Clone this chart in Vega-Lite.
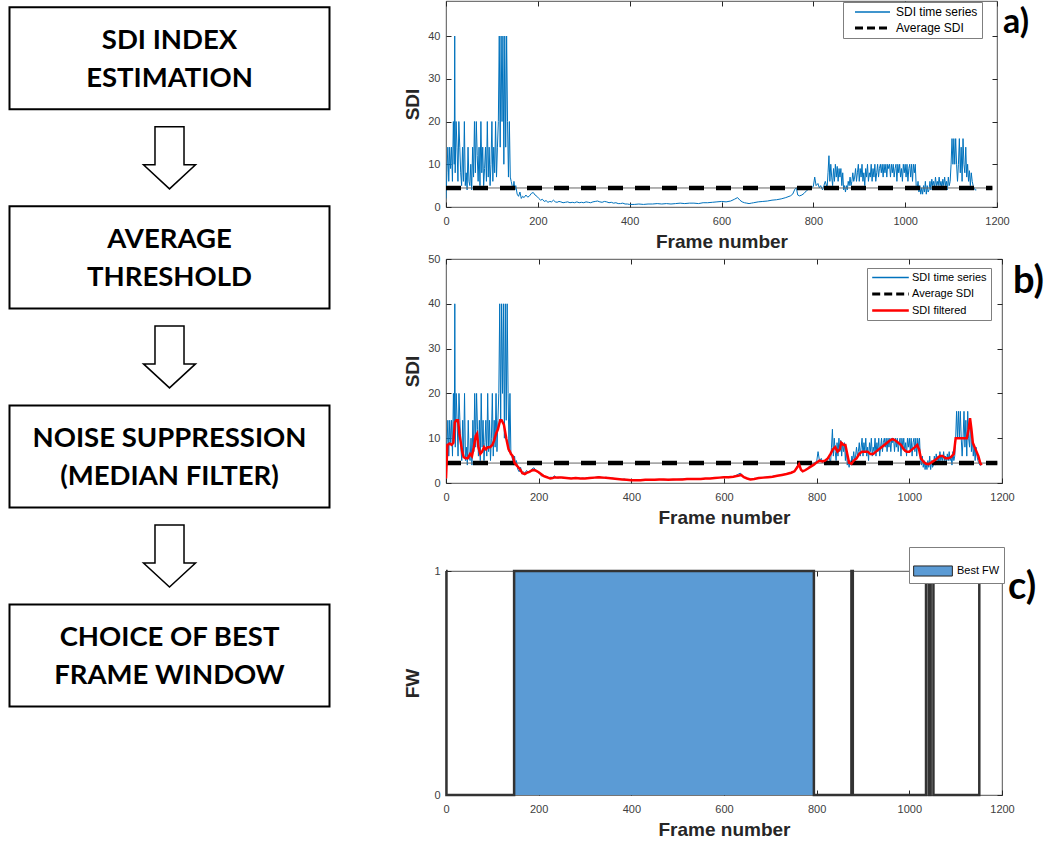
{
"$schema":"https://vega.github.io/schema/vega-lite/v6.json",
"padding":0,
"background":"white",
"config":{
 "font":"Liberation Sans",
 "view":{"stroke":"#262626","strokeWidth":0.8},
 "axis":{"labelFont":"Liberation Sans","labelFontSize":11,"labelColor":"#404040","titleFont":"Liberation Sans","titleFontSize":19,"titleFontWeight":"bold","titleColor":"#262626","tickColor":"#262626","tickSize":-5,"grid":false,"domain":false,"labelFlush":false,"labelOverlap":false,"format":"d"},
 "legend":{"labelFont":"Liberation Sans","labelColor":"#000000","fillColor":"white","strokeColor":"#7f7f7f","title":null}
},
"datasets":{
 "steps":[{"stage":1,"label":"SDI INDEX\nESTIMATION"},{"stage":2,"label":"AVERAGE\nTHRESHOLD"},{"stage":3,"label":"NOISE SUPPRESSION\n(MEDIAN FILTER)"},{"stage":4,"label":"CHOICE OF BEST\nFRAME WINDOW"}],
 "arrows":[{"stage":1.5},{"stage":2.5},{"stage":3.5}],
 "avg":[{"frame":0,"v":4.45},{"frame":1190,"v":4.45}],
 "sdi":[{"frame":0,"v":2},{"frame":2,"v":8},{"frame":4,"v":14},{"frame":6,"v":6},{"frame":8,"v":14},{"frame":10,"v":9},{"frame":12,"v":14},{"frame":14,"v":6},{"frame":16,"v":20},{"frame":18,"v":10},{"frame":19,"v":40},{"frame":20,"v":8},{"frame":22,"v":20},{"frame":24,"v":14},{"frame":26,"v":6},{"frame":28,"v":20},{"frame":30,"v":14},{"frame":32,"v":8},{"frame":34,"v":5},{"frame":36,"v":14},{"frame":38,"v":6},{"frame":40,"v":20},{"frame":42,"v":5},{"frame":44,"v":8},{"frame":46,"v":4},{"frame":48,"v":14},{"frame":50,"v":6},{"frame":52,"v":5},{"frame":54,"v":10},{"frame":56,"v":4},{"frame":58,"v":14},{"frame":60,"v":7},{"frame":62,"v":20},{"frame":64,"v":8},{"frame":66,"v":20},{"frame":68,"v":12},{"frame":70,"v":6},{"frame":72,"v":14},{"frame":74,"v":5},{"frame":76,"v":20},{"frame":78,"v":8},{"frame":80,"v":14},{"frame":82,"v":5},{"frame":84,"v":9},{"frame":86,"v":14},{"frame":88,"v":6},{"frame":90,"v":20},{"frame":92,"v":7},{"frame":94,"v":14},{"frame":96,"v":5},{"frame":98,"v":10},{"frame":100,"v":20},{"frame":102,"v":6},{"frame":104,"v":14},{"frame":106,"v":8},{"frame":108,"v":20},{"frame":110,"v":7},{"frame":112,"v":14},{"frame":114,"v":20},{"frame":116,"v":40},{"frame":118,"v":14},{"frame":120,"v":40},{"frame":122,"v":20},{"frame":124,"v":40},{"frame":126,"v":10},{"frame":128,"v":40},{"frame":130,"v":14},{"frame":132,"v":40},{"frame":134,"v":20},{"frame":136,"v":7},{"frame":138,"v":20},{"frame":140,"v":7},{"frame":142,"v":6},{"frame":144,"v":5},{"frame":146,"v":4},{"frame":148,"v":6},{"frame":150,"v":4},{"frame":152,"v":5},{"frame":155,"v":3},{"frame":158,"v":2.5},{"frame":161,"v":3.5},{"frame":164,"v":2},{"frame":167,"v":2.5},{"frame":170,"v":2.2},{"frame":174,"v":2.8},{"frame":178,"v":2.3},{"frame":182,"v":2.6},{"frame":186,"v":3.2},{"frame":190,"v":3.4},{"frame":194,"v":2.8},{"frame":198,"v":2.5},{"frame":202,"v":2},{"frame":206,"v":1.6},{"frame":210,"v":1.8},{"frame":214,"v":1.3},{"frame":218,"v":1.5},{"frame":222,"v":1.1},{"frame":226,"v":1.3},{"frame":230,"v":1.2},{"frame":234,"v":1.6},{"frame":238,"v":1.2},{"frame":242,"v":1.1},{"frame":246,"v":1.3},{"frame":250,"v":1.2},{"frame":255,"v":1},{"frame":260,"v":1.1},{"frame":265,"v":1.2},{"frame":270,"v":1},{"frame":275,"v":1.1},{"frame":280,"v":1},{"frame":285,"v":1.2},{"frame":290,"v":1},{"frame":295,"v":1.1},{"frame":300,"v":1},{"frame":305,"v":1.2},{"frame":310,"v":1.1},{"frame":315,"v":1},{"frame":320,"v":1.2},{"frame":325,"v":1.3},{"frame":330,"v":1.4},{"frame":335,"v":1.2},{"frame":340,"v":1.1},{"frame":345,"v":1.3},{"frame":350,"v":1.2},{"frame":355,"v":1},{"frame":360,"v":1.1},{"frame":365,"v":0.9},{"frame":370,"v":1},{"frame":375,"v":0.8},{"frame":380,"v":0.8},{"frame":385,"v":0.9},{"frame":390,"v":0.7},{"frame":395,"v":0.7},{"frame":400,"v":0.6},{"frame":410,"v":0.6},{"frame":420,"v":0.7},{"frame":430,"v":0.6},{"frame":440,"v":0.7},{"frame":450,"v":0.7},{"frame":460,"v":0.8},{"frame":470,"v":0.7},{"frame":480,"v":0.8},{"frame":490,"v":0.7},{"frame":500,"v":0.8},{"frame":510,"v":0.9},{"frame":520,"v":0.8},{"frame":530,"v":0.9},{"frame":540,"v":0.9},{"frame":550,"v":0.8},{"frame":560,"v":1},{"frame":570,"v":1},{"frame":580,"v":1.1},{"frame":590,"v":1.2},{"frame":600,"v":1.3},{"frame":610,"v":1.2},{"frame":620,"v":1.4},{"frame":628,"v":1.8},{"frame":635,"v":2.2},{"frame":640,"v":1.6},{"frame":645,"v":1.2},{"frame":650,"v":1},{"frame":655,"v":0.9},{"frame":660,"v":0.8},{"frame":665,"v":0.9},{"frame":670,"v":1},{"frame":680,"v":1.2},{"frame":690,"v":1.3},{"frame":700,"v":1.4},{"frame":710,"v":1.6},{"frame":720,"v":1.7},{"frame":730,"v":1.9},{"frame":740,"v":2.2},{"frame":750,"v":2.6},{"frame":755,"v":3},{"frame":760,"v":4.2},{"frame":763,"v":4.5},{"frame":766,"v":2.8},{"frame":770,"v":2.6},{"frame":775,"v":2.8},{"frame":780,"v":3.2},{"frame":785,"v":3.8},{"frame":790,"v":4.2},{"frame":795,"v":4.5},{"frame":800,"v":4.8},{"frame":803,"v":7},{"frame":806,"v":5},{"frame":810,"v":5.5},{"frame":813,"v":4.5},{"frame":816,"v":5},{"frame":820,"v":4},{"frame":823,"v":5},{"frame":826,"v":6},{"frame":830,"v":4.5},{"frame":832,"v":8},{"frame":834,"v":12},{"frame":836,"v":6},{"frame":838,"v":10},{"frame":840,"v":7},{"frame":842,"v":5},{"frame":844,"v":9},{"frame":846,"v":6},{"frame":848,"v":10},{"frame":850,"v":7},{"frame":852,"v":9.5},{"frame":854,"v":6},{"frame":856,"v":9},{"frame":858,"v":7},{"frame":860,"v":9},{"frame":862,"v":5},{"frame":864,"v":8},{"frame":866,"v":4},{"frame":868,"v":5},{"frame":870,"v":3.5},{"frame":872,"v":5},{"frame":874,"v":4},{"frame":876,"v":6},{"frame":878,"v":5},{"frame":880,"v":7},{"frame":882,"v":5},{"frame":884,"v":6},{"frame":886,"v":8},{"frame":888,"v":6},{"frame":890,"v":7},{"frame":892,"v":9},{"frame":894,"v":6},{"frame":896,"v":8},{"frame":898,"v":10},{"frame":900,"v":6},{"frame":902,"v":9},{"frame":904,"v":7},{"frame":906,"v":10},{"frame":908,"v":6},{"frame":910,"v":8},{"frame":912,"v":5},{"frame":914,"v":9},{"frame":916,"v":7},{"frame":918,"v":10},{"frame":920,"v":6},{"frame":922,"v":8},{"frame":924,"v":7},{"frame":926,"v":10},{"frame":928,"v":6},{"frame":930,"v":9},{"frame":932,"v":7},{"frame":934,"v":10},{"frame":936,"v":6},{"frame":938,"v":8},{"frame":940,"v":10},{"frame":942,"v":7},{"frame":944,"v":9},{"frame":946,"v":10},{"frame":948,"v":8},{"frame":950,"v":10},{"frame":952,"v":7},{"frame":954,"v":10},{"frame":956,"v":8},{"frame":958,"v":10},{"frame":960,"v":7},{"frame":962,"v":10},{"frame":964,"v":9},{"frame":966,"v":10},{"frame":968,"v":7},{"frame":970,"v":10},{"frame":972,"v":8},{"frame":974,"v":10},{"frame":976,"v":7},{"frame":978,"v":9},{"frame":980,"v":10},{"frame":982,"v":6},{"frame":984,"v":10},{"frame":986,"v":8},{"frame":988,"v":10},{"frame":990,"v":7},{"frame":992,"v":9},{"frame":994,"v":6},{"frame":996,"v":10},{"frame":998,"v":8},{"frame":1000,"v":10},{"frame":1002,"v":7},{"frame":1004,"v":10},{"frame":1006,"v":6},{"frame":1008,"v":9},{"frame":1010,"v":10},{"frame":1012,"v":7},{"frame":1014,"v":10},{"frame":1016,"v":6},{"frame":1018,"v":10},{"frame":1020,"v":8},{"frame":1022,"v":10},{"frame":1024,"v":5},{"frame":1026,"v":4},{"frame":1028,"v":6},{"frame":1030,"v":3.5},{"frame":1032,"v":5},{"frame":1034,"v":3},{"frame":1036,"v":4.5},{"frame":1038,"v":3},{"frame":1040,"v":5},{"frame":1042,"v":3.5},{"frame":1044,"v":6},{"frame":1046,"v":3},{"frame":1048,"v":5},{"frame":1050,"v":3.5},{"frame":1052,"v":4},{"frame":1054,"v":6},{"frame":1056,"v":4},{"frame":1058,"v":6.5},{"frame":1060,"v":5},{"frame":1062,"v":6},{"frame":1064,"v":4.5},{"frame":1066,"v":7},{"frame":1068,"v":5},{"frame":1070,"v":6},{"frame":1072,"v":5},{"frame":1074,"v":7},{"frame":1076,"v":5},{"frame":1078,"v":6},{"frame":1080,"v":4.5},{"frame":1082,"v":6.5},{"frame":1084,"v":5},{"frame":1086,"v":7},{"frame":1088,"v":5},{"frame":1090,"v":6},{"frame":1092,"v":4},{"frame":1094,"v":7},{"frame":1096,"v":5},{"frame":1098,"v":6},{"frame":1100,"v":10},{"frame":1102,"v":16},{"frame":1104,"v":10},{"frame":1106,"v":16},{"frame":1108,"v":10},{"frame":1110,"v":16},{"frame":1112,"v":10},{"frame":1114,"v":6},{"frame":1116,"v":10},{"frame":1118,"v":16},{"frame":1120,"v":8},{"frame":1122,"v":14},{"frame":1124,"v":6},{"frame":1126,"v":16},{"frame":1128,"v":10},{"frame":1130,"v":8},{"frame":1132,"v":14},{"frame":1134,"v":7},{"frame":1136,"v":10},{"frame":1138,"v":6},{"frame":1140,"v":8.5},{"frame":1142,"v":5},{"frame":1144,"v":8},{"frame":1146,"v":6},{"frame":1148,"v":5},{"frame":1150,"v":4.5},{"frame":1152,"v":4},{"frame":1155,"v":4}],
 "filt":[{"frame":0,"v":1},{"frame":3,"v":8.5},{"frame":8,"v":8.8},{"frame":12,"v":8.5},{"frame":16,"v":9},{"frame":19,"v":13.5},{"frame":22,"v":14},{"frame":26,"v":14},{"frame":29,"v":11},{"frame":32,"v":9},{"frame":35,"v":7},{"frame":38,"v":5.8},{"frame":42,"v":5.5},{"frame":47,"v":5.5},{"frame":52,"v":6.5},{"frame":56,"v":6},{"frame":60,"v":8},{"frame":64,"v":10.5},{"frame":67,"v":11},{"frame":70,"v":8},{"frame":74,"v":6.5},{"frame":78,"v":7},{"frame":82,"v":8},{"frame":86,"v":7.5},{"frame":90,"v":8},{"frame":95,"v":8},{"frame":100,"v":8.5},{"frame":104,"v":9.5},{"frame":108,"v":11},{"frame":112,"v":12},{"frame":117,"v":14},{"frame":120,"v":14},{"frame":125,"v":13},{"frame":130,"v":10},{"frame":135,"v":7.5},{"frame":138,"v":7},{"frame":140,"v":6.5},{"frame":144,"v":6},{"frame":148,"v":4.5},{"frame":152,"v":4},{"frame":156,"v":3.5},{"frame":160,"v":3},{"frame":165,"v":2.2},{"frame":170,"v":2},{"frame":175,"v":2.3},{"frame":180,"v":2.5},{"frame":185,"v":2.8},{"frame":190,"v":2.9},{"frame":195,"v":2.7},{"frame":200,"v":2.4},{"frame":205,"v":2},{"frame":210,"v":1.6},{"frame":215,"v":1.4},{"frame":220,"v":1.2},{"frame":225,"v":1},{"frame":230,"v":1.1},{"frame":235,"v":1.3},{"frame":240,"v":1.2},{"frame":250,"v":1.2},{"frame":260,"v":1.1},{"frame":270,"v":1},{"frame":280,"v":1.1},{"frame":290,"v":1},{"frame":300,"v":1},{"frame":310,"v":1.1},{"frame":320,"v":1.2},{"frame":330,"v":1.3},{"frame":340,"v":1.2},{"frame":350,"v":1.1},{"frame":360,"v":1},{"frame":370,"v":0.9},{"frame":380,"v":0.8},{"frame":390,"v":0.7},{"frame":400,"v":0.6},{"frame":410,"v":0.6},{"frame":420,"v":0.6},{"frame":430,"v":0.7},{"frame":440,"v":0.7},{"frame":450,"v":0.7},{"frame":460,"v":0.8},{"frame":470,"v":0.8},{"frame":480,"v":0.7},{"frame":490,"v":0.8},{"frame":500,"v":0.8},{"frame":510,"v":0.8},{"frame":520,"v":0.9},{"frame":530,"v":0.9},{"frame":540,"v":0.9},{"frame":550,"v":0.9},{"frame":560,"v":1},{"frame":570,"v":1},{"frame":580,"v":1.1},{"frame":590,"v":1.2},{"frame":600,"v":1.3},{"frame":610,"v":1.3},{"frame":620,"v":1.4},{"frame":630,"v":1.6},{"frame":637,"v":1.8},{"frame":643,"v":1.3},{"frame":650,"v":1},{"frame":657,"v":0.8},{"frame":665,"v":0.9},{"frame":675,"v":1.1},{"frame":685,"v":1.2},{"frame":695,"v":1.3},{"frame":705,"v":1.4},{"frame":715,"v":1.6},{"frame":725,"v":1.8},{"frame":735,"v":2},{"frame":745,"v":2.3},{"frame":752,"v":2.6},{"frame":758,"v":3.5},{"frame":762,"v":4.2},{"frame":766,"v":3},{"frame":770,"v":2.6},{"frame":776,"v":2.9},{"frame":782,"v":3.3},{"frame":788,"v":3.7},{"frame":794,"v":4.1},{"frame":800,"v":4.6},{"frame":806,"v":5},{"frame":812,"v":4.8},{"frame":818,"v":5},{"frame":824,"v":5.5},{"frame":830,"v":6.5},{"frame":835,"v":7.5},{"frame":840,"v":8},{"frame":845,"v":7},{"frame":850,"v":7.5},{"frame":853,"v":9},{"frame":858,"v":8.5},{"frame":862,"v":8.5},{"frame":866,"v":6.5},{"frame":870,"v":4.5},{"frame":875,"v":4.3},{"frame":880,"v":5},{"frame":886,"v":5.5},{"frame":892,"v":6.5},{"frame":898,"v":7},{"frame":904,"v":7},{"frame":910,"v":7},{"frame":916,"v":6.5},{"frame":922,"v":6.5},{"frame":928,"v":7},{"frame":934,"v":7.5},{"frame":940,"v":8},{"frame":946,"v":8.5},{"frame":952,"v":9},{"frame":958,"v":9.5},{"frame":964,"v":9.8},{"frame":970,"v":9.5},{"frame":976,"v":9},{"frame":982,"v":8.5},{"frame":988,"v":7.5},{"frame":994,"v":7},{"frame":1000,"v":7},{"frame":1006,"v":7.5},{"frame":1012,"v":8},{"frame":1017,"v":8.5},{"frame":1021,"v":7.5},{"frame":1025,"v":5.5},{"frame":1030,"v":4.8},{"frame":1036,"v":4.3},{"frame":1042,"v":4.2},{"frame":1048,"v":4.6},{"frame":1054,"v":5},{"frame":1060,"v":5.5},{"frame":1066,"v":6},{"frame":1072,"v":6},{"frame":1078,"v":5.5},{"frame":1084,"v":5.5},{"frame":1090,"v":5.8},{"frame":1096,"v":6.5},{"frame":1100,"v":10},{"frame":1106,"v":10},{"frame":1112,"v":10},{"frame":1118,"v":10},{"frame":1124,"v":10},{"frame":1128,"v":12},{"frame":1131,"v":14.5},{"frame":1134,"v":12},{"frame":1137,"v":9},{"frame":1141,"v":8},{"frame":1145,"v":7},{"frame":1149,"v":6},{"frame":1153,"v":4.5},{"frame":1156,"v":4}],
 "fw":[{"frame":0,"v":1},{"frame":1,"v":0},{"frame":147,"v":1},{"frame":794,"v":0},{"frame":875,"v":1},{"frame":878,"v":0},{"frame":1036,"v":1},{"frame":1042,"v":0},{"frame":1046,"v":1},{"frame":1052,"v":0},{"frame":1151,"v":1},{"frame":1153,"v":1}],
 "best":[{"frame":147,"v":1},{"frame":794,"v":1}]
},
"spacing":64,
"hconcat":[
 {
  "width":339,"height":842,
  "view":{"stroke":null},
  "encoding":{"y":{"field":"stage","type":"quantitative","scale":{"domain":[0.712,4.942],"reverse":true,"nice":false,"zero":false},"axis":null}},
  "layer":[
   {"data":{"name":"steps"},"mark":{"type":"point","shape":"M-1,-0.319L1,-0.319L1,0.319L-1,0.319Z","size":102400,"filled":true,"fill":"white","stroke":"black","strokeWidth":2,"opacity":1}},
   {"data":{"name":"steps"},"mark":{"type":"text","font":"Lato","fontWeight":"bold","fontSize":27.5,"lineBreak":"\n","lineHeight":38,"align":"center","baseline":"middle","dy":-17,"color":"black"},"encoding":{"text":{"field":"label"}}},
   {"data":{"name":"arrows"},"mark":{"type":"point","shape":"M-0.468,-1L0.468,-1L0.468,0.226L0.839,0.226L0,1L-0.839,0.226L-0.468,0.226Z","size":3844,"filled":true,"fill":"white","stroke":"black","strokeWidth":1.5,"opacity":1}}
  ]
 },
 {
  "spacing":0,
  "resolve":{"scale":{"x":"independent","y":"independent","color":"independent","fill":"independent"}},
  "vconcat":[
   {
    "width":551,"height":206,
    "layer":[
     {"data":{"name":"sdi"},"mark":{"type":"line","strokeWidth":1,"clip":true},
      "encoding":{
       "x":{"field":"frame","type":"quantitative","scale":{"domain":[0,1200],"nice":false,"zero":false},"axis":{"orient":"bottom","values":[0,200,400,600,800,1000,1200],"labelPadding":13,"title":"Frame number","titlePadding":6}},
       "y":{"field":"v","type":"quantitative","scale":{"domain":[0,48.2],"nice":false},"axis":{"orient":"left","values":[0,10,20,30,40],"labelPadding":11,"title":"SDI","titlePadding":5}},
       "color":{"datum":"SDI time series","type":"nominal","scale":{"domain":["SDI time series","Average SDI"],"range":["#0072BD","#000000"]},
        "legend":{"orient":"none","legendX":397,"legendY":1,"padding":4,"rowPadding":4,"clipHeight":12,"labelFontSize":12,"labelOffset":5,"symbolSize":1764,"symbolType":"M-0.667,0L1,0","symbolStrokeWidth":1.5,"strokeColor":"#7f7f7f",
         "encode":{"symbols":{"update":{"strokeDash":{"signal":"(datum.value === 'Average SDI' ? [8,4] : [1,0])"},"strokeWidth":{"signal":"(datum.value === 'Average SDI' ? 3 : 1.5)"}}}}}}}},
     {"data":{"name":"avg"},"mark":{"type":"line","strokeWidth":1,"color":"#666666"},
      "encoding":{
       "x":{"field":"frame","type":"quantitative","scale":{"domain":[0,1200],"nice":false,"zero":false},"axis":{"orient":"top","values":[0,200,400,600,800,1000,1200],"labels":false,"title":null}},
       "y":{"field":"v","type":"quantitative","scale":{"domain":[0,48.2],"nice":false},"axis":{"orient":"right","values":[0,10,20,30,40],"labels":false,"title":null}}}},
     {"data":{"name":"avg"},"mark":{"type":"line","strokeWidth":4.5,"strokeDash":[15,12]},
      "encoding":{
       "x":{"field":"frame","type":"quantitative","axis":null},
       "y":{"field":"v","type":"quantitative","axis":null},
       "color":{"datum":"Average SDI","type":"nominal"}}},
     {"data":{"values":[{"lab":"a)"}]},"mark":{"type":"text","font":"Lato","fontWeight":"bold","fontSize":34,"align":"left","baseline":"alphabetic","dx":6,"dy":32,"color":"black"},
      "encoding":{
       "x":{"datum":1200,"type":"quantitative","axis":null},
       "y":{"datum":48.2,"type":"quantitative","axis":null},
       "text":{"field":"lab"}}}
    ],
    "resolve":{"axis":{"x":"independent","y":"independent"}}
   },
   {
    "width":556,"height":224,
    "layer":[
     {"data":{"name":"sdi"},"mark":{"type":"line","strokeWidth":1,"clip":true},
      "encoding":{
       "x":{"field":"frame","type":"quantitative","scale":{"domain":[0,1200],"nice":false,"zero":false},"axis":{"orient":"bottom","values":[0,200,400,600,800,1000,1200],"labelPadding":13,"title":["Frame number"," "],"titleLineHeight":18,"titlePadding":6}},
       "y":{"field":"v","type":"quantitative","scale":{"domain":[0,50],"nice":false},"axis":{"orient":"left","values":[0,10,20,30,40,50],"labelPadding":11,"title":"SDI","titlePadding":5}},
       "color":{"datum":"SDI time series","type":"nominal","scale":{"domain":["SDI time series","Average SDI","SDI filtered"],"range":["#0072BD","#000000","#FF0000"]},
        "legend":{"orient":"none","legendX":421,"legendY":9,"padding":4,"rowPadding":4.5,"clipHeight":11,"labelFontSize":11,"labelOffset":2,"symbolSize":1340,"symbolType":"M-1,0L1,0","symbolStrokeWidth":1.5,"strokeColor":"#7f7f7f",
         "encode":{"symbols":{"update":{"strokeDash":{"signal":"(datum.value === 'Average SDI' ? [8,4] : [1,0])"},"strokeWidth":{"signal":"(datum.value === 'Average SDI' ? 3 : (datum.value === 'SDI filtered' ? 2.5 : 1.5))"}}}}}}}},
     {"data":{"name":"avg"},"mark":{"type":"line","strokeWidth":1,"color":"#666666"},
      "encoding":{
       "x":{"field":"frame","type":"quantitative","scale":{"domain":[0,1200],"nice":false,"zero":false},"axis":{"orient":"top","values":[0,200,400,600,800,1000,1200],"labels":false,"title":null}},
       "y":{"field":"v","type":"quantitative","scale":{"domain":[0,50],"nice":false},"axis":{"orient":"right","values":[0,10,20,30,40,50],"labels":false,"title":null}}}},
     {"data":{"name":"avg"},"mark":{"type":"line","strokeWidth":4.5,"strokeDash":[15,12]},
      "encoding":{
       "x":{"field":"frame","type":"quantitative","axis":null},
       "y":{"field":"v","type":"quantitative","axis":null},
       "color":{"datum":"Average SDI","type":"nominal"}}},
     {"data":{"name":"filt"},"mark":{"type":"line","strokeWidth":2.5,"clip":true},
      "encoding":{
       "x":{"field":"frame","type":"quantitative","axis":null},
       "y":{"field":"v","type":"quantitative","axis":null},
       "color":{"datum":"SDI filtered","type":"nominal"}}},
     {"data":{"values":[{"lab":"b)"}]},"mark":{"type":"text","font":"Lato","fontWeight":"bold","fontSize":38,"align":"left","baseline":"alphabetic","dx":11,"dy":34,"color":"black"},
      "encoding":{
       "x":{"datum":1200,"type":"quantitative","axis":null},
       "y":{"datum":50,"type":"quantitative","axis":null},
       "text":{"field":"lab"}}}
    ],
    "resolve":{"axis":{"x":"independent","y":"independent"}}
   },
   {
    "width":556,"height":224,
    "layer":[
     {"data":{"name":"best"},"mark":{"type":"area","opacity":1},
      "encoding":{
       "x":{"field":"frame","type":"quantitative","scale":{"domain":[0,1200],"nice":false,"zero":false},"axis":{"orient":"bottom","values":[0,200,400,600,800,1000,1200],"labelPadding":13,"title":"Frame number","titlePadding":6}},
       "y":{"field":"v","type":"quantitative","scale":{"domain":[0,1],"nice":false},"axis":{"orient":"left","values":[0,1],"labelPadding":11,"title":"FW","titlePadding":11}},
       "fill":{"datum":"Best FW","type":"nominal","scale":{"domain":["Best FW"],"range":["#5B9BD5"]},
        "legend":{"orient":"none","legendX":463,"legendY":-24,"padding":4,"labelFontSize":11,"labelOffset":4,"symbolType":"M-1,-0.26L1,-0.26L1,0.26L-1,0.26Z","symbolSize":1500,"symbolStrokeColor":"#262626","symbolStrokeWidth":1,"symbolOpacity":1,"strokeColor":"#7f7f7f"}}}},
     {"data":{"name":"fw"},"mark":{"type":"line","interpolate":"step-after","strokeWidth":2.5,"color":"#333333"},
      "encoding":{
       "x":{"field":"frame","type":"quantitative","scale":{"domain":[0,1200],"nice":false,"zero":false},"axis":{"orient":"top","values":[0,200,400,600,800,1000,1200],"labels":false,"title":null}},
       "y":{"field":"v","type":"quantitative","scale":{"domain":[0,1],"nice":false},"axis":{"orient":"right","values":[0,1],"labels":false,"title":null}}}},
     {"data":{"values":[{"lab":"c)"}]},"mark":{"type":"text","font":"Lato","fontWeight":"bold","fontSize":38,"align":"left","baseline":"alphabetic","dx":6,"dy":28,"color":"black"},
      "encoding":{
       "x":{"datum":1200,"type":"quantitative","axis":null},
       "y":{"datum":1,"type":"quantitative","axis":null},
       "text":{"field":"lab"}}}
    ],
    "resolve":{"axis":{"x":"independent","y":"independent"}}
   }
  ]
 }
]
}
